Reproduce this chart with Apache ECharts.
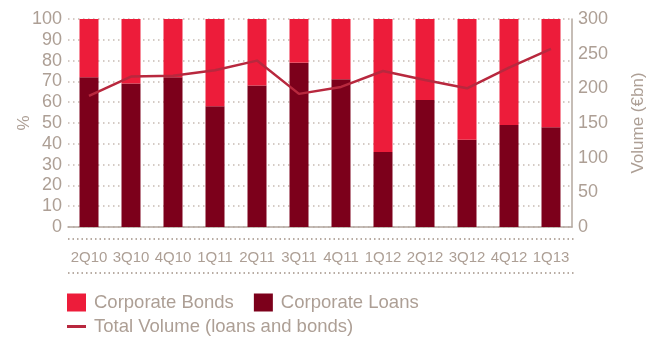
<!DOCTYPE html>
<html>
<head>
<meta charset="utf-8">
<script src="https://cdn.jsdelivr.net/npm/echarts@6/dist/echarts.min.js"></script>
<style>
*{margin:0;padding:0;}
body{background:#fff;}
#chart{width:655px;height:338px;}
</style>
</head>
<body>
<div id="chart"></div>
<script>
var quarters = ['2Q10','3Q10','4Q10','1Q11','2Q11','3Q11','4Q11','1Q12','2Q12','3Q12','4Q12','1Q13'];
// share of loans in %
var loans = [72, 69, 72, 58, 68, 79, 71, 36, 61, 42, 49, 48];
// bonds = rest up to 100%
var bonds = [28, 31, 28, 42, 32, 21, 29, 64, 39, 58, 51, 52];
// total volume, EUR bn
var volume = [189, 217, 218, 226, 240, 192, 202, 225, 212, 200, 230, 257];

var txt = '#ad9f95';
var font = 'Liberation Sans';

var myChart = echarts.init(document.getElementById('chart'));
myChart.setOption({
  animation: false,
  grid: {left: 68, right: 83, top: 19, bottom: 111},
  legend: [{
    data: ['Corporate Bonds', 'Corporate Loans'],
    left: 62, top: 288,
    icon: 'rect',
    itemWidth: 19, itemHeight: 18,
    itemGap: 20,
    textStyle: {color: txt, fontSize: 18.5, fontFamily: font, padding: [0, 0, 0, 3]}
  }, {
    data: ['Total Volume (loans and bonds)'],
    left: 62, top: 312,
    icon: 'rect',
    itemWidth: 19, itemHeight: 3,
    textStyle: {color: txt, fontSize: 18.5, fontFamily: font, padding: [0, 0, 0, 3]}
  }],
  xAxis: {
    type: 'category',
    data: quarters,
    axisLine: {lineStyle: {color: '#b3a79e', width: 1.5}},
    axisTick: {inside: true, length: 4, lineStyle: {color: '#b3a79e'}},
    axisLabel: {color: txt, fontSize: 15, fontFamily: font, margin: 23, interval: 0}
  },
  yAxis: [{
    type: 'value',
    min: 0, max: 100, interval: 10,
    axisLine: {show: false},
    axisTick: {show: false},
    axisLabel: {color: txt, fontSize: 18, fontFamily: font, margin: 6},
    splitLine: {lineStyle: {color: '#c6bbb3', width: 1.5, type: [1.5, 3.5]}}
  }, {
    type: 'value',
    min: 0, max: 300, interval: 50,
    name: 'Volume (€bn)',
    nameLocation: 'middle',
    nameGap: 58,
    nameRotate: 90,
    nameTextStyle: {color: txt, fontSize: 17, fontFamily: font},
    axisLine: {show: true, lineStyle: {color: '#b3a79e', width: 1.5}},
    axisTick: {show: false},
    axisLabel: {color: txt, fontSize: 18, fontFamily: font, margin: 6},
    splitLine: {show: false}
  }],
  graphic: [{
    type: 'text',
    x: 24, y: 123,
    rotation: Math.PI / 2,
    style: {text: '%', fill: txt, fontSize: 17, fontFamily: font, align: 'center', verticalAlign: 'middle'}
  }, {
    type: 'line',
    shape: {x1: 68, y1: 239, x2: 575, y2: 239},
    style: {stroke: '#b8aca3', lineWidth: 2, lineDash: [1.5, 3], lineCap: 'butt'}
  }, {
    type: 'line',
    shape: {x1: 68, y1: 273, x2: 575, y2: 273},
    style: {stroke: '#b8aca3', lineWidth: 2, lineDash: [1.5, 3], lineCap: 'butt'}
  }],
  series: [{
    name: 'Corporate Loans',
    type: 'bar',
    stack: 'share',
    barWidth: 19,
    itemStyle: {color: '#7c001b'},
    data: loans
  }, {
    name: 'Corporate Bonds',
    type: 'bar',
    stack: 'share',
    barWidth: 19,
    itemStyle: {color: '#ed1c3a'},
    data: bonds
  }, {
    name: 'Total Volume (loans and bonds)',
    type: 'line',
    yAxisIndex: 1,
    symbol: 'none',
    lineStyle: {color: '#b8283e', width: 2.5},
    itemStyle: {color: '#b8283e'},
    data: volume
  }]
});
</script>
</body>
</html>
